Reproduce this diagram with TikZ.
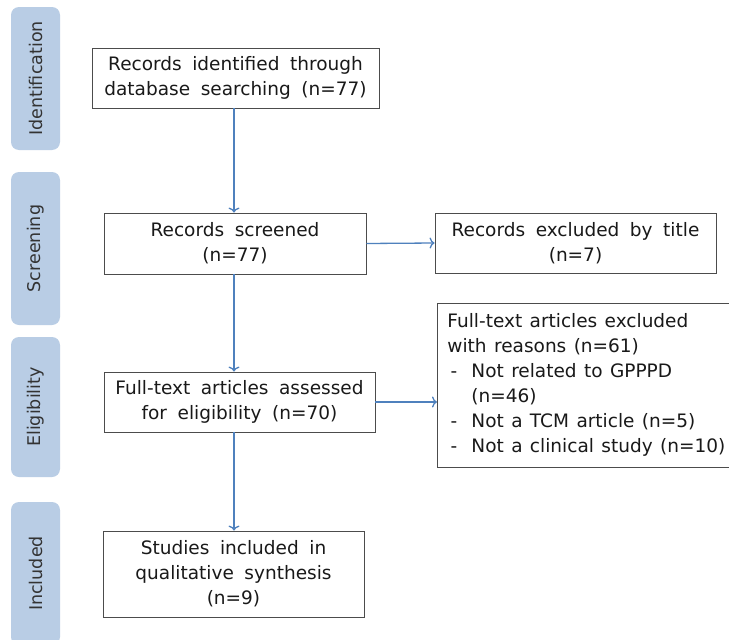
\documentclass[tikz,border=0pt]{standalone}
\usepackage{fontspec}
\setmainfont{DejaVu Sans}[WordSpace=1.8]
\usetikzlibrary{shapes.geometric, arrows, arrows.meta}
\definecolor{tabBlue}{HTML}{B9CDE5}
\definecolor{arrowBlue}{HTML}{4F81BD}
\tikzstyle{normalBox} = [shape=rectangle, draw=black!70, line width=0.9pt,
	align=center, fill=white, inner sep=0pt, text=black!90,
	font=\fontsize{18.5}{25}\selectfont]
\tikzstyle{listBox} = [normalBox, align=flush left, inner xsep=10pt, text width=300pt,
	minimum height=164pt, execute at begin node={\spaceskip=7.4pt\relax}]
\tikzstyle{stageBox} = [shape=rectangle, fill=tabBlue, rounded corners=8pt,
	rotate=90, inner sep=0pt, minimum height=49pt, text=black!80,
	font=\fontsize{17.5}{20}\selectfont]
\tikzstyle{normalArrow} = [line width=1.3pt, draw=arrowBlue,
	-{To[length=5pt, width=11pt]}]
\newcommand{\listdash}{\makebox[24pt][l]{\,-}}

\begin{document}
\begin{tikzpicture}[x=1pt, y=-1pt]
  \clip (0,0) rectangle (729,640);
  \fill [white] (0,0) rectangle (729,640);

  % stage tabs on the left
  \node (IDENT) [stageBox, minimum width=143pt] at (35.5,78.5) {Identification};
  \node (SCREEN) [stageBox, minimum width=153pt] at (35.5,248.5) {Screening};
  \node (ELIG) [stageBox, minimum width=140pt] at (35.5,407) {Eligibility};
  \node (INCL) [stageBox, minimum width=143pt] at (35.5,573.5) {Included};

  \node (RECID) [normalBox, minimum width=287pt, minimum height=60pt] at (235.5,78)
    {Records identified through\\database searching (n=77)};
  \node (RECSC) [normalBox, minimum width=262pt, minimum height=61pt] at (235,243.5)
    {Records screened\\(n=77)};
  \node (RECEX) [normalBox, minimum width=281pt, minimum height=60pt] at (575.5,243)
    {Records excluded by title\\(n=7)};
  \node (FULLT) [normalBox, minimum width=271pt, minimum height=60pt] at (239.5,402)
    {Full-text articles assessed\\for eligibility (n=70)};
  \node (FULLEX) [listBox, anchor=west] at (437,385)
    {Full-text articles excluded\\with reasons (n=61)\\
     \listdash Not related to GPPPD\\\hspace*{24pt}(n=46)\\
     \listdash Not a TCM article (n=5)\\
     \listdash Not a clinical study (n=10)};
  \node (STUDY) [normalBox, minimum width=261pt, minimum height=86pt] at (233.5,574)
    {Studies included in\\qualitative synthesis\\(n=9)};

  \draw [normalArrow] (RECID.south -| 234,0) -- (RECSC.north -| 234,0);
  \draw [normalArrow] (RECSC.east) -- (RECEX.west);
  \draw [normalArrow] (RECSC.south -| 234,0) -- (FULLT.north -| 234,0);
  \draw [normalArrow] (FULLT.east) -- (FULLT.east -| FULLEX.west);
  \draw [normalArrow] (FULLT.south -| 234,0) -- (STUDY.north -| 234,0);

\end{tikzpicture}
\end{document}
